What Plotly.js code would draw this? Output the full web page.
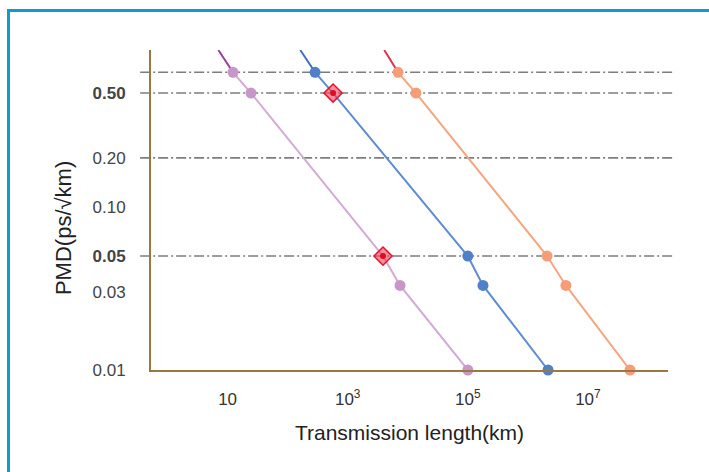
<!DOCTYPE html>
<html>
<head>
<meta charset="utf-8">
<script src="https://cdn.plot.ly/plotly-3.0.1.min.js"></script>
<style>
  html, body { margin: 0; padding: 0; background: #ffffff; overflow: hidden; }
  #frame { position: absolute; left: 7px; top: 9px; width: 740px; height: 500px;
           border: 3px solid #0f9bd0; box-sizing: border-box; }
  #chart { position: absolute; left: 0; top: 0; width: 709px; height: 472px; }
</style>
</head>
<body>
<div id="frame"></div>
<div id="chart"></div>
<script>
// ---- data ----
const pmdLevels = [0.67, 0.5, 0.05, 0.033, 0.01];          // PMD (ps/√km) at each marked point
const lengthLilac  = [12.3, 24.5, 3870, 7430, 1e5];         // km
const lengthBlue   = [286, 570, 1e5, 1.79e5, 2.17e6];       // km
const lengthOrange = [6890, 1.37e4, 2.09e6, 4.3e6, 5.03e7]; // km

// upper extension of each line (PMD, length)
const upperPMD = 0.918;
const upperLilac = 7.0;
const upperBlue = 162;
const upperOrange = 4060;

// highlighted (diamond) points
const diamondLength = [3870, 570];
const diamondPMD = [0.05, 0.5];

// dash-dot reference levels
const refLevels = [0.67, 0.5, 0.2, 0.05];

// ticks
const xTickVals = [10, 1e3, 1e5, 1e7];
const xTickText = ['10', '10<sup>3</sup>', '10<sup>5</sup>', '10<sup>7</sup>'];
const yTickVals = [0.01, 0.03, 0.05, 0.1, 0.2, 0.5];
const yTickText = ['0.01', '0.03', '<b>0.05</b>', '0.10', '0.20', '<b>0.50</b>'];

// ---- styling ----
const FONT = 'Liberation Sans, Arial, sans-serif';
const series = [
  {x: lengthLilac,  up: upperLilac,  line: '#d3a9d6', dot: '#c896c8', upColor: '#9b3c9b'},
  {x: lengthBlue,   up: upperBlue,   line: '#5d8cd2', dot: '#4f80c8', upColor: '#3f6fc4'},
  {x: lengthOrange, up: upperOrange, line: '#f5a67f', dot: '#f49d76', upColor: '#e2304c'}
];

const traces = [];
series.forEach(s => {
  traces.push({x: [s.up, s.x[0]], y: [upperPMD, pmdLevels[0]], mode: 'lines',
               line: {color: s.upColor, width: 2}, hoverinfo: 'skip'});
  traces.push({x: s.x, y: pmdLevels, mode: 'lines', line: {color: s.line, width: 2}, hoverinfo: 'skip'});
});
series.forEach(s => {
  const xs = [], ys = [];
  s.x.forEach((v, i) => {
    let isDiamond = false;
    diamondLength.forEach((d, j) => { if (d === v && diamondPMD[j] === pmdLevels[i]) isDiamond = true; });
    if (!isDiamond) { xs.push(v); ys.push(pmdLevels[i]); }
  });
  traces.push({x: xs, y: ys, mode: 'markers', cliponaxis: false,
               marker: {color: s.dot, size: 11, line: {width: 0}}});
});
traces.push({x: diamondLength, y: diamondPMD, mode: 'markers', cliponaxis: false,
             marker: {symbol: 'diamond', size: 14, color: 'rgba(238,70,90,0.6)', line: {color: '#e4122c', width: 1.5}}});
traces.push({x: diamondLength, y: diamondPMD, mode: 'markers', cliponaxis: false,
             marker: {symbol: 'circle', size: 6, color: '#e00a25', line: {width: 0}}});

const shapes = refLevels.map(v => ({
  type: 'line', xref: 'paper', yref: 'y', x0: -0.021, x1: 1.008, y0: v, y1: v,
  layer: 'below', line: {color: '#7d7d7d', width: 1.6, dash: '10px,3px,2px,3px'}
}));

const layout = {
  width: 709, height: 472,
  margin: {l: 151, r: 41, t: 50, b: 102},
  paper_bgcolor: 'rgba(0,0,0,0)', plot_bgcolor: 'rgba(0,0,0,0)',
  showlegend: false,
  font: {family: FONT, color: '#333', size: 17},
  xaxis: {
    type: 'log', range: [-0.276, 8.334],
    showline: true, linecolor: '#9a7842', linewidth: 2,
    showgrid: false, zeroline: false, ticks: '',
    tickvals: xTickVals, ticktext: xTickText,
    tickfont: {family: FONT, size: 17, color: '#333'},
    ticklabelstandoff: 13,
    title: {text: 'Transmission length(km)', font: {family: FONT, size: 21, color: '#222'}, standoff: 17}
  },
  yaxis: {
    type: 'log', range: [-2, -0.037],
    showline: true, linecolor: '#9a7842', linewidth: 2,
    showgrid: false, zeroline: false, ticks: '',
    tickvals: yTickVals, ticktext: yTickText,
    tickfont: {family: FONT, size: 17, color: '#444'},
    ticklabelstandoff: 20
  },
  shapes: shapes,
  annotations: [{
    text: 'PMD(ps/√km)', xref: 'paper', yref: 'paper', x: -0.168, y: 0.444,
    textangle: -90, showarrow: false, xanchor: 'center', yanchor: 'middle',
    font: {family: FONT, size: 22, color: '#222'}
  }]
};

Plotly.newPlot('chart', traces, layout, {displayModeBar: false, staticPlot: true});
</script>
</body>
</html>
